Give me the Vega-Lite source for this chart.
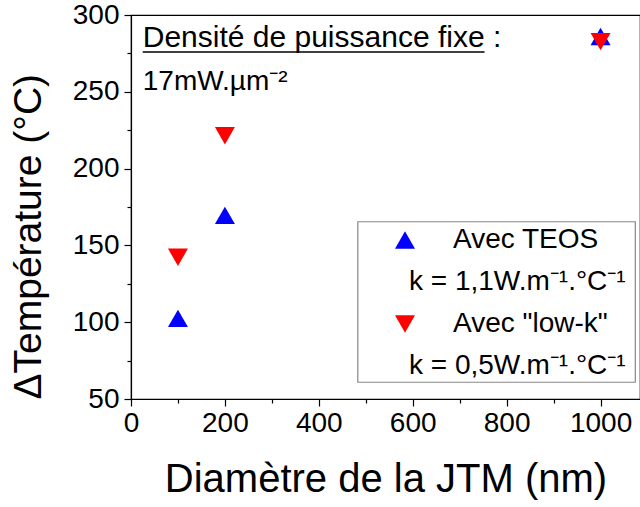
{
  "$schema": "https://vega.github.io/schema/vega-lite/v6.json",
  "width": 509,
  "height": 384,
  "autosize": {"type": "none"},
  "padding": {"left": 131, "top": 15, "right": 0, "bottom": 108},
  "background": "white",
  "config": {
    "view": {"stroke": "black", "strokeWidth": 1.2},
    "font": "Liberation Sans",
    "axis": {
      "grid": false,
      "domainColor": "black",
      "tickColor": "black",
      "labelColor": "black",
      "titleColor": "black",
      "labelFont": "Liberation Sans",
      "titleFont": "Liberation Sans",
      "titleFontWeight": "normal",
      "domainWidth": 1.2,
      "tickWidth": 1.2
    },
    "legend": {
      "orient": "none",
      "legendX": 260,
      "legendY": 211,
      "strokeColor": null,
      "padding": 0,
      "symbolOffset": 0,
      "labelOffset": -10,
      "rowPadding": 14,
      "labelFontSize": 28,
      "labelFont": "Liberation Sans",
      "labelColor": "black",
      "labelLimit": 400,
      "symbolSize": 400,
      "symbolStrokeWidth": 0,
      "symbolOpacity": 1
    }
  },
  "datasets": {
    "points": [
      {"serie": "TEOS", "diametre": 100, "dT": 102.5},
      {"serie": "TEOS", "diametre": 200, "dT": 169.6},
      {"serie": "TEOS", "diametre": 1000, "dT": 286},
      {"serie": "lowk", "diametre": 100, "dT": 142.3},
      {"serie": "lowk", "diametre": 200, "dT": 221.4},
      {"serie": "lowk", "diametre": 1000, "dT": 282.7}
    ]
  },
  "layer": [
    {
      "data": {"values": [{"cadre": "légende"}]},
      "mark": {"type": "rect", "fill": "white", "stroke": "#888888", "strokeWidth": 1.2},
      "encoding": {
        "x": {"datum": 483, "type": "quantitative", "axis": null},
        "x2": {"datum": 1074},
        "y": {"datum": 165.4, "type": "quantitative", "axis": null},
        "y2": {"datum": 60.9}
      }
    },
    {
      "data": {"name": "points"},
      "mark": {"type": "point", "filled": true, "opacity": 1, "size": 400, "strokeWidth": 0},
      "encoding": {
        "x": {
          "field": "diametre",
          "type": "quantitative",
          "scale": {"domain": [0, 1084], "nice": false, "zero": false},
          "axis": {
            "orient": "bottom",
            "values": [0, 200, 400, 600, 800, 1000],
            "format": "d",
            "tickSize": 7,
            "labelFontSize": 28,
            "labelPadding": 3,
            "labelFlush": false,
            "title": "Diamètre de la JTM (nm)",
            "titleFontSize": 40,
            "titlePadding": 22
          }
        },
        "y": {
          "field": "dT",
          "type": "quantitative",
          "scale": {"domain": [50, 300], "nice": false, "zero": false},
          "axis": {
            "orient": "left",
            "values": [50, 100, 150, 200, 250, 300],
            "tickSize": 7,
            "labelFontSize": 28,
            "labelPadding": 5,
            "labelFlush": false,
            "title": "ΔTempérature (°C)",
            "titleFontSize": 39,
            "titleAnchor": "start",
            "titlePadding": 24
          }
        },
        "color": {
          "field": "serie",
          "type": "nominal",
          "scale": {"domain": ["TEOS", "kTEOS", "lowk", "klowk"], "range": ["#0000FF", "transparent", "#FF0000", "transparent"]},
          "legend": {
            "title": null,
            "labelExpr": "datum.value == 'TEOS' ? 'Avec TEOS' : datum.value == 'kTEOS' ? 'k = 1,1W.m\u207b\u00b9.°C\u207b\u00b9' : datum.value == 'lowk' ? 'Avec \"low-k\"' : 'k = 0,5W.m\u207b\u00b9.°C\u207b\u00b9'",
            "encode": {
              "labels": {
                "update": {
                  "dx": {"signal": "(datum.value == 'TEOS' || datum.value == 'lowk') ? 44 : 0"}
                }
              }
            }
          }
        },
        "shape": {
          "field": "serie",
          "type": "nominal",
          "scale": {"domain": ["TEOS", "kTEOS", "lowk", "klowk"], "range": ["triangle-up", "triangle-up", "triangle-down", "triangle-down"]}
        }
      }
    },
    {
      "data": {"name": "points"},
      "mark": {"type": "point", "opacity": 0},
      "encoding": {
        "x": {
          "field": "diametre",
          "type": "quantitative",
          "axis": {"orient": "bottom", "values": [100, 300, 500, 700, 900], "tickSize": 4, "labels": false, "domain": false, "title": null}
        },
        "y": {
          "field": "dT",
          "type": "quantitative",
          "axis": {"orient": "left", "values": [75, 125, 175, 225, 275], "tickSize": 4, "labels": false, "domain": false, "title": null}
        }
      }
    },
    {
      "data": {"values": [{"texte": "Densité de puissance fixe :"}]},
      "mark": {"type": "text", "align": "left", "baseline": "alphabetic", "fontSize": 30, "font": "Liberation Sans", "color": "black"},
      "encoding": {
        "text": {"field": "texte"},
        "x": {"datum": 25, "type": "quantitative", "axis": null},
        "y": {"datum": 279.3, "type": "quantitative", "axis": null}
      }
    },
    {
      "data": {"values": [{"texte": "17mW.µm\u207b\u00b2"}]},
      "mark": {"type": "text", "align": "left", "baseline": "alphabetic", "fontSize": 28, "font": "Liberation Sans", "color": "black"},
      "encoding": {
        "text": {"field": "texte"},
        "x": {"datum": 25, "type": "quantitative", "axis": null},
        "y": {"datum": 251.2, "type": "quantitative", "axis": null}
      }
    },
    {
      "data": {"values": [{"trait": "souligné"}]},
      "mark": {"type": "rule", "color": "black", "strokeWidth": 1.5},
      "encoding": {
        "x": {"datum": 25, "type": "quantitative", "axis": null},
        "x2": {"datum": 753},
        "y": {"datum": 275.9, "type": "quantitative", "axis": null}
      }
    }
  ],
  "resolve": {"axis": {"x": "independent", "y": "independent"}}
}
